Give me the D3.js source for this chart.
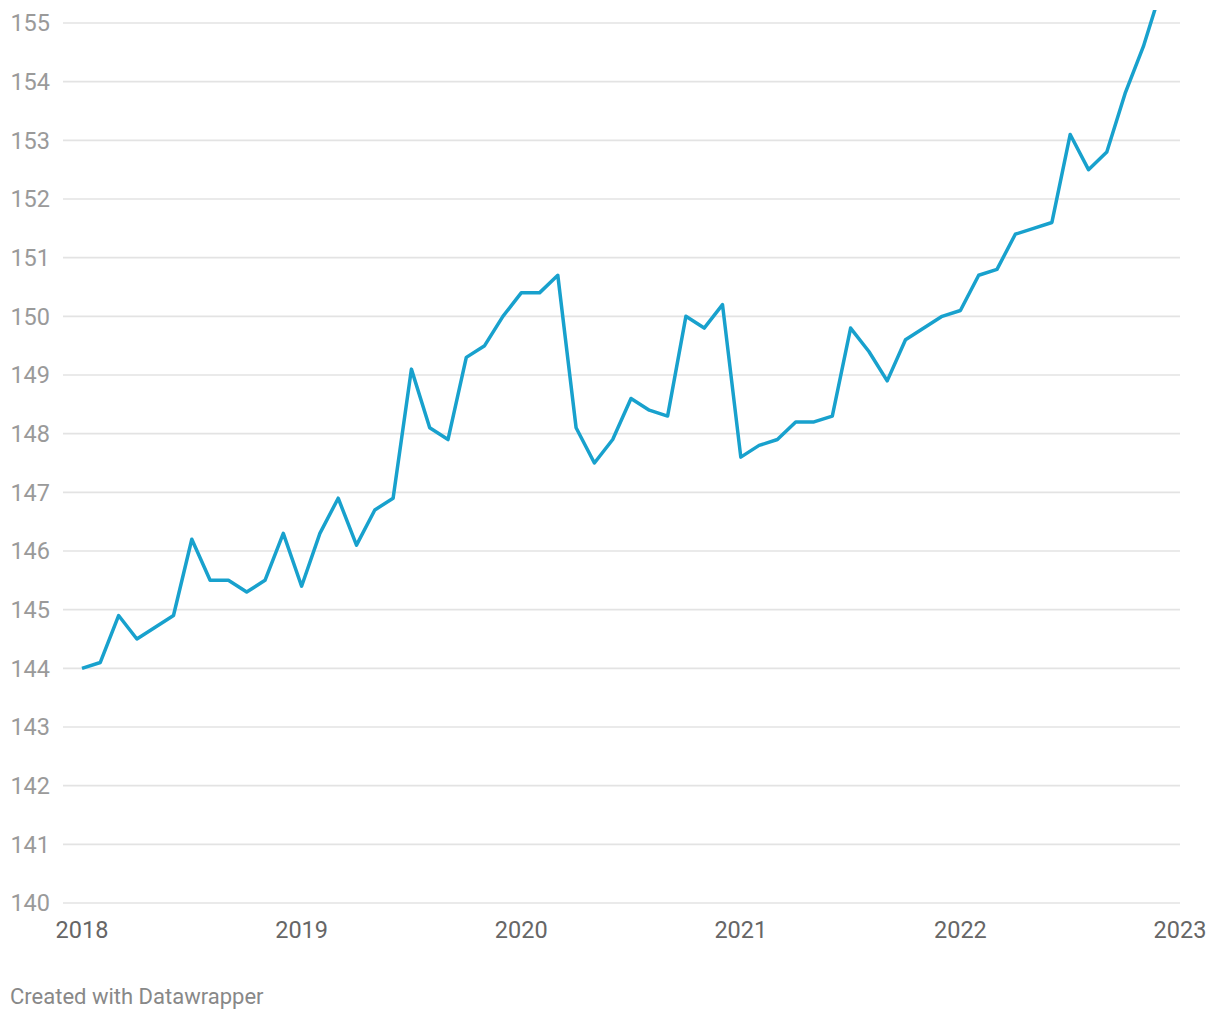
<!DOCTYPE html>
<html>
<head>
<meta charset="utf-8">
<script src="https://cdn.jsdelivr.net/npm/d3@7"></script>
<style>
  body { margin: 0; background: #fff; }
  svg { display: block; font-family: Roboto, sans-serif; }
</style>
</head>
<body>
<svg id="chart"></svg>
<script>
// monthly values, Jan 2018 .. Dec 2022
const startYear = 2018;
const values = [
  144.0, 144.1, 144.9, 144.5, 144.7, 144.9, 146.2, 145.5, 145.5, 145.3, 145.5, 146.3,
  145.4, 146.3, 146.9, 146.1, 146.7, 146.9, 149.1, 148.1, 147.9, 149.3, 149.5, 150.0,
  150.4, 150.4, 150.7, 148.1, 147.5, 147.9, 148.6, 148.4, 148.3, 150.0, 149.8, 150.2,
  147.6, 147.8, 147.9, 148.2, 148.2, 148.3, 149.8, 149.4, 148.9, 149.6, 149.8, 150.0,
  150.1, 150.7, 150.8, 151.4, 151.5, 151.6, 153.1, 152.5, 152.8, 153.8, 154.6, 155.6
];
const yTicks = d3.range(140, 156);
const xTicks = [2018, 2019, 2020, 2021, 2022, 2023];
const credit = 'Created with Datawrapper';

const W = 1220, H = 1020;
const svg = d3.select('#chart').attr('width', W).attr('height', H);

const x = d3.scaleLinear().domain([2018, 2023]).range([82, 1180]);
const y = d3.scaleLinear().domain([140, 155]).range([903, 23]);

// gridlines
svg.append('g')
  .selectAll('line')
  .data(yTicks)
  .join('line')
  .attr('x1', 63).attr('x2', 1180)
  .attr('y1', d => y(d)).attr('y2', d => y(d))
  .attr('stroke', '#e3e3e3')
  .attr('stroke-width', 1.6);

// y labels
svg.append('g')
  .selectAll('text')
  .data(yTicks)
  .join('text')
  .attr('x', 50)
  .attr('y', d => y(d))
  .attr('dy', '0.35em')
  .attr('text-anchor', 'end')
  .attr('font-size', 23.5)
  .attr('fill', '#9a9a9a')
  .text(d => d);

// x labels
svg.append('g')
  .selectAll('text')
  .data(xTicks)
  .join('text')
  .attr('x', d => x(d))
  .attr('y', 938)
  .attr('text-anchor', 'middle')
  .attr('font-size', 23.5)
  .attr('fill', '#666')
  .text(d => d);

svg.append('clipPath').attr('id', 'clip')
  .append('rect').attr('x', 0).attr('y', 10).attr('width', W).attr('height', 900);

const line = d3.line()
  .x((d, i) => x(startYear + i / 12))
  .y(d => y(d));

svg.append('path')
  .datum(values)
  .attr('clip-path', 'url(#clip)')
  .attr('d', line)
  .attr('fill', 'none')
  .attr('stroke', '#18a1cd')
  .attr('stroke-width', 3.5)
  .attr('stroke-linejoin', 'round');

svg.append('text')
  .attr('x', 10).attr('y', 1004)
  .attr('font-size', 22)
  .attr('fill', '#888')
  .text(credit);
</script>
</body>
</html>
